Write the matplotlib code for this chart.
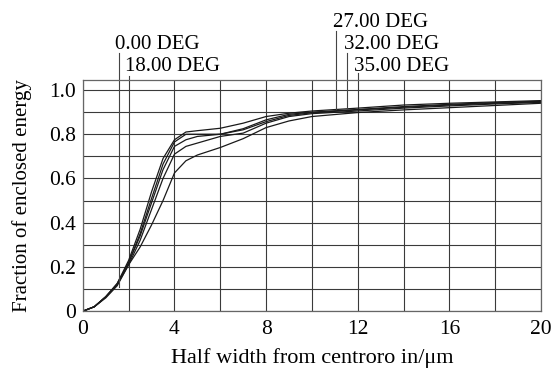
"""enclosed-energy curves for five field angles"""
import matplotlib

matplotlib.use("Agg")
import matplotlib.pyplot as plt  # noqa: E402

plt.rcParams["font.family"] = ["Liberation Serif", "DejaVu Serif"]

# half width (um) sample points
half_width = [0, 0.5, 1.0, 1.5, 2.0, 2.5, 3.0, 3.5, 4.0, 4.5, 5.0, 6.0, 7.0, 8.0, 9.0, 10.0, 12.0, 14.0, 16.0, 18.0, 20.0]

# fraction of enclosed energy per field angle
deg_0 = [0, 0.02, 0.065, 0.125, 0.23, 0.37, 0.54, 0.69, 0.775, 0.81, 0.816, 0.827, 0.85, 0.88, 0.895, 0.905, 0.918, 0.932, 0.94, 0.946, 0.952]
deg_18 = [0, 0.02, 0.065, 0.125, 0.22, 0.35, 0.51, 0.665, 0.765, 0.80, 0.80, 0.80, 0.825, 0.865, 0.89, 0.90, 0.912, 0.925, 0.935, 0.943, 0.949]
deg_27 = [0, 0.02, 0.065, 0.12, 0.22, 0.34, 0.49, 0.64, 0.745, 0.775, 0.79, 0.80, 0.82, 0.857, 0.885, 0.897, 0.91, 0.922, 0.932, 0.94, 0.947]
deg_32 = [0, 0.02, 0.065, 0.12, 0.21, 0.32, 0.46, 0.60, 0.71, 0.745, 0.76, 0.79, 0.805, 0.85, 0.88, 0.893, 0.905, 0.918, 0.928, 0.937, 0.944]
deg_35 = [0, 0.02, 0.06, 0.115, 0.21, 0.29, 0.39, 0.50, 0.625, 0.68, 0.706, 0.74, 0.78, 0.83, 0.86, 0.88, 0.898, 0.91, 0.92, 0.93, 0.94]

# field-angle labels and their leader lines (x of leader, text baseline y, leader top y, leader bottom y)
labels = ["0.00 DEG", "18.00 DEG", "27.00 DEG", "32.00 DEG", "35.00 DEG"]
label_x = [1.57, 2.0, 11.05, 11.55, 12.0]
label_text_y = [1.185, 1.085, 1.285, 1.185, 1.085]
label_top_y = [1.165, 1.065, 1.265, 1.165, 1.075]
label_bottom_y = [0.11, 1.045, 0.914, 0.914, 1.045]

fig = plt.figure(figsize=(5.56, 3.74), dpi=100)
ax = fig.add_axes([0.149, 0.168, 0.824, 0.618])

for series in (deg_0, deg_18, deg_27, deg_32, deg_35):
    ax.plot(half_width, series, color="#1a1a1a", lw=0.9)

ax.set_xlim(0, 20)
ax.set_ylim(0, 1.045)
ax.set_xticks(range(0, 21, 4))
ax.set_yticks([0, 0.2, 0.4, 0.6, 0.8, 1.0])
ax.set_yticklabels(["0", "0.2", "0.4", "0.6", "0.8", "1.0"])
ax.set_xticks(range(2, 20, 2), minor=True)
ax.set_yticks([i / 10 for i in range(1, 11)], minor=True)
ax.grid(which="both", color="#3a3a3a", lw=0.8)
ax.tick_params(which="both", length=0, labelsize=15.5)
ax.tick_params(axis="x", pad=6)
ax.tick_params(axis="y", pad=5)
for s in ax.spines.values():
    s.set_color("#666666")
    s.set_linewidth(0.9)

for txt, x, ty, top, bot in zip(labels, label_x, label_text_y, label_top_y, label_bottom_y):
    ax.plot([x, x], [bot, top], color="#444444", lw=0.8, clip_on=False)
    ax.text(x - 0.15, ty, txt, fontsize=15, ha="left", va="baseline", clip_on=False)

ax.set_xlabel("Half width from centroro in/\u03bcm", fontsize=16, labelpad=7)
ax.set_ylabel("Fraction of enclosed energy", fontsize=15, labelpad=12)

fig.savefig("out.png", dpi=100)
